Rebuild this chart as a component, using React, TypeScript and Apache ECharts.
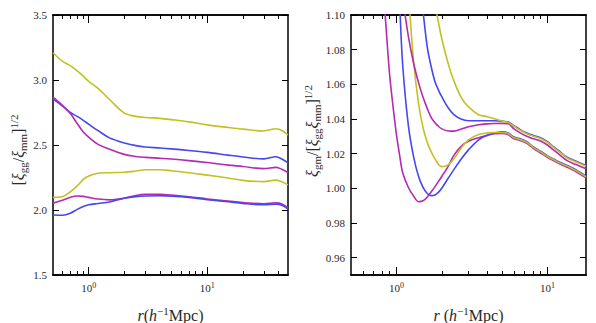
import React, { useEffect, useRef } from "react";
import * as echarts from "echarts";

// ---------- data: left panel, [xi_gg / xi_mm]^(1/2) ----------
const rLeft = [0.5, 0.6, 0.7, 0.8, 0.9, 1, 1.2, 1.5, 2, 2.5, 3, 4, 5, 7, 10, 15, 20, 30, 38, 43, 48];
const leftYellowHigh = [3.21, 3.145, 3.11, 3.07, 3.03, 2.99, 2.935, 2.85, 2.745, 2.72, 2.712, 2.705, 2.695, 2.678, 2.655, 2.635, 2.622, 2.608, 2.625, 2.61, 2.577];
const leftBlueHigh = [2.855, 2.8, 2.75, 2.72, 2.69, 2.66, 2.61, 2.555, 2.515, 2.495, 2.485, 2.477, 2.47, 2.458, 2.443, 2.422, 2.408, 2.393, 2.41, 2.39, 2.362];
const leftMagentaHigh = [2.868, 2.805, 2.742, 2.665, 2.6, 2.56, 2.505, 2.468, 2.428, 2.412, 2.405, 2.398, 2.392, 2.38, 2.365, 2.345, 2.335, 2.318, 2.328, 2.312, 2.288];
const leftYellowLow = [2.097, 2.102, 2.14, 2.185, 2.235, 2.262, 2.283, 2.287, 2.29, 2.3, 2.31, 2.31, 2.302, 2.287, 2.268, 2.246, 2.228, 2.218, 2.23, 2.215, 2.193];
const leftMagentaLow = [2.053, 2.075, 2.098, 2.108, 2.105, 2.097, 2.084, 2.078, 2.092, 2.112, 2.12, 2.12, 2.115, 2.102, 2.085, 2.068, 2.058, 2.048, 2.055, 2.045, 2.018];
const leftBlueLow = [1.962, 1.96, 1.975, 2.005, 2.027, 2.04, 2.05, 2.062, 2.09, 2.103, 2.108, 2.11, 2.107, 2.097, 2.08, 2.063, 2.05, 2.04, 2.044, 2.035, 2.007];

// ---------- data: right panel, xi_gm / [xi_gg xi_mm]^(1/2) ----------
const rRight = [0.8, 0.85, 0.9, 0.95, 1.0, 1.05, 1.1, 1.2, 1.3, 1.4, 1.5, 1.6, 1.7, 1.8, 1.9, 2.0, 2.2, 2.4, 2.7, 3.0, 3.5, 4.0, 4.5, 5.0, 5.5, 6.0, 6.6, 7.3, 8.0, 9.0, 10, 11, 12, 13.5, 15.5, 18];
const rightMagentaLow = [1.126, 1.095, 1.066, 1.047, 1.031, 1.019, 1.009, 1.0005, 0.9955, 0.9923, 0.9928, 0.995, 0.998, 1.001, 1.004, 1.007, 1.0127, 1.019, 1.0245, 1.0272, 1.0292, 1.0305, 1.0315, 1.0316, 1.0309, 1.0286, 1.0276, 1.0259, 1.0232, 1.0204, 1.0179, 1.0159, 1.0142, 1.0122, 1.0096, 1.006];
const rightBlueLow = [null, null, null, null, 1.14, 1.106, 1.071, 1.036, 1.018, 1.007, 1.0005, 0.997, 0.9958, 0.9962, 0.9978, 1.0002, 1.0058, 1.0108, 1.0172, 1.0222, 1.028, 1.0308, 1.0319, 1.0326, 1.0319, 1.0296, 1.0286, 1.0269, 1.0242, 1.0214, 1.0189, 1.0169, 1.0152, 1.0132, 1.0106, 1.007];
const rightYellowLow = [null, null, null, null, null, null, 1.165, 1.113, 1.073, 1.049, 1.035, 1.0265, 1.021, 1.017, 1.0138, 1.0125, 1.0135, 1.017, 1.0235, 1.028, 1.031, 1.032, 1.0322, 1.0322, 1.0315, 1.0292, 1.0282, 1.0265, 1.0238, 1.021, 1.0185, 1.0165, 1.0148, 1.0128, 1.0102, 1.0066];
const rightMagentaHigh = [null, null, null, null, null, 1.125, 1.11, 1.0875, 1.072, 1.061, 1.0525, 1.046, 1.0408, 1.0378, 1.0357, 1.0343, 1.0331, 1.033, 1.0342, 1.0355, 1.0367, 1.0372, 1.0374, 1.0375, 1.0372, 1.0343, 1.032, 1.03, 1.0287, 1.0273, 1.025, 1.022, 1.0195, 1.016, 1.0137, 1.0113];
const rightBlueHigh = [null, null, null, null, null, null, null, null, null, 1.124, 1.102, 1.0815, 1.07, 1.0615, 1.0565, 1.0527, 1.0465, 1.0425, 1.0398, 1.039, 1.039, 1.039, 1.039, 1.0388, 1.0382, 1.0362, 1.0339, 1.0319, 1.0306, 1.0292, 1.0269, 1.0239, 1.0214, 1.0179, 1.0156, 1.0132];
const rightYellowHigh = [null, null, null, null, null, null, null, null, null, null, null, null, 1.118, 1.106, 1.0955, 1.086, 1.072, 1.062, 1.052, 1.047, 1.0425, 1.0413, 1.04, 1.0388, 1.0379, 1.0358, 1.0335, 1.0315, 1.0302, 1.0288, 1.0265, 1.0235, 1.021, 1.0175, 1.0152, 1.0128];

// ---------- ticks ----------
const leftYTicks = [1.5, 2.0, 2.5, 3.0, 3.5];
const rightYTicks = [0.96, 0.98, 1.0, 1.02, 1.04, 1.06, 1.08, 1.1];
const xMajor = [1, 10];
const xMinorLeft = [0.6, 0.7, 0.8, 0.9, 2, 3, 4, 5, 6, 7, 8, 9, 20, 30, 40];
const xMinorRight = [0.6, 0.7, 0.8, 0.9, 2, 3, 4, 5, 6, 7, 8, 9];
const leftXRange = [0.5, 48];
const rightXRange = [0.5, 18];

const YELLOW = "#c4c021";
const BLUE = "#4646f2";
const MAGENTA = "#b42ab4";
const SERIF = "'Liberation Serif', 'DejaVu Serif', serif";
const TXT = "#2a2a2a";

const richName = {
  i: { fontFamily: SERIF, fontStyle: "italic", fontSize: 16, lineHeight: 20, color: TXT },
  sub: { fontFamily: SERIF, fontSize: 11, verticalAlign: "bottom", color: TXT },
  sup: { fontFamily: SERIF, fontSize: 11, verticalAlign: "top", color: TXT },
};
const richGraphic = {
  i: { fontFamily: SERIF, fontStyle: "italic", fontSize: 16, lineHeight: 20, fill: TXT },
  sub: { fontFamily: SERIF, fontSize: 11, verticalAlign: "bottom", fill: TXT },
  sup: { fontFamily: SERIF, fontSize: 11, verticalAlign: "top", fill: TXT },
};

function toPts(rs: number[], vs: (number | null)[]) {
  const out: number[][] = [];
  rs.forEach((r, i) => {
    const v = vs[i];
    if (v !== null && v !== undefined) out.push([Math.log10(r), v]);
  });
  return out;
}

function spine() {
  return { show: true, onZero: false, lineStyle: { color: "#000", width: 1.5 } };
}

function xAxes(gridIndex: number, range: number[], minor: number[], name: string) {
  const min = Math.log10(range[0]);
  const max = Math.log10(range[1]);
  const majorL = xMajor.map((v) => Math.log10(v));
  const minorL = minor.map((v) => Math.log10(v));
  const mk = (position: string, major: boolean, withLabel: boolean) => {
    const ax: any = {
      type: "value",
      gridIndex,
      min,
      max,
      position,
      splitLine: { show: false },
      axisLine: spine(),
      axisTick: { show: true, inside: true, length: major ? 8 : 4, customValues: (major ? majorL : minorL).slice() },
      axisLabel: { show: false },
    };
    if (withLabel) {
      ax.axisLabel = {
        show: true,
        customValues: majorL.slice(),
        margin: 6,
        fontFamily: SERIF,
        fontSize: 11,
        lineHeight: 14,
        color: TXT,
        formatter: (v: number) => `10{sup|${Math.round(v)}}`,
        rich: { sup: { fontFamily: SERIF, fontSize: 8, verticalAlign: "top", color: TXT } },
      };
      ax.name = name;
      ax.nameLocation = "middle";
      ax.nameGap = 30;
      ax.nameTextStyle = { fontFamily: SERIF, fontSize: 16, lineHeight: 20, color: TXT, rich: richName };
    }
    return ax;
  };
  return [mk("bottom", true, true), mk("bottom", false, false), mk("top", true, false), mk("top", false, false)];
}

function yAxes(gridIndex: number, min: number, max: number, ticks: number[], digits: number) {
  return [
    {
      type: "value",
      gridIndex,
      min,
      max,
      position: "left",
      splitLine: { show: false },
      axisLine: spine(),
      axisTick: { show: true, inside: true, length: 6, customValues: ticks.slice() },
      axisLabel: {
        show: true,
        customValues: ticks.slice(),
        margin: 6,
        fontFamily: SERIF,
        fontSize: 11,
        color: TXT,
        formatter: (v: number) => v.toFixed(digits),
      },
    },
    {
      type: "value",
      gridIndex,
      min,
      max,
      position: "right",
      splitLine: { show: false },
      axisLine: spine(),
      axisTick: { show: true, inside: true, length: 6, customValues: ticks.slice() },
      axisLabel: { show: false },
    },
  ];
}

function line(data: number[][], color: string, xAxisIndex: number, yAxisIndex: number) {
  return {
    type: "line",
    data,
    xAxisIndex,
    yAxisIndex,
    showSymbol: false,
    smooth: 0.35,
    clip: true,
    lineStyle: { color, width: 1.6 },
    itemStyle: { color },
  };
}

function yTitle(text: string, x: number, y: number) {
  return {
    type: "text",
    x,
    y,
    rotation: Math.PI / 2,
    style: {
      text,
      fontFamily: SERIF,
      fontSize: 16,
      lineHeight: 20,
      fill: TXT,
      align: "center",
      verticalAlign: "middle",
      rich: richGraphic,
    },
  };
}

export default function App() {
  const ref = useRef<HTMLDivElement>(null);
  useEffect(() => {
    document.body.style.margin = "0";
    if (!ref.current) return;
    const chart = echarts.init(ref.current, undefined, { renderer: "svg" });
    const option = {
      animation: false,
      backgroundColor: "#fff",
      grid: [
        { left: 53, top: 15, width: 235, height: 260, outerBoundsMode: "none" },
        { left: 351, top: 15, width: 235, height: 260, outerBoundsMode: "none" },
      ],
      xAxis: [
        ...xAxes(0, leftXRange, xMinorLeft, "{i|r}({i|h}{sup|−1}Mpc)"),
        ...xAxes(1, rightXRange, xMinorRight, "{i|r} ({i|h}{sup|−1}Mpc)"),
      ],
      yAxis: [...yAxes(0, 1.5, 3.5, leftYTicks, 1), ...yAxes(1, 0.95, 1.1, rightYTicks, 2)],
      graphic: [
        yTitle("[{i|ξ}{sub|gg}/{i|ξ}{sub|mm}]{sup|1/2}", 18, 150),
        yTitle("{i|ξ}{sub|gm}/[{i|ξ}{sub|gg}{i|ξ}{sub|mm}]{sup|1/2}", 312, 131),
      ],
      series: [
        line(toPts(rLeft, leftYellowHigh), YELLOW, 0, 0),
        line(toPts(rLeft, leftBlueHigh), BLUE, 0, 0),
        line(toPts(rLeft, leftMagentaHigh), MAGENTA, 0, 0),
        line(toPts(rLeft, leftYellowLow), YELLOW, 0, 0),
        line(toPts(rLeft, leftMagentaLow), MAGENTA, 0, 0),
        line(toPts(rLeft, leftBlueLow), BLUE, 0, 0),
        line(toPts(rRight, rightMagentaLow), MAGENTA, 4, 2),
        line(toPts(rRight, rightBlueLow), BLUE, 4, 2),
        line(toPts(rRight, rightYellowLow), YELLOW, 4, 2),
        line(toPts(rRight, rightMagentaHigh), MAGENTA, 4, 2),
        line(toPts(rRight, rightBlueHigh), BLUE, 4, 2),
        line(toPts(rRight, rightYellowHigh), YELLOW, 4, 2),
      ],
    };
    chart.setOption(option as any);
    return () => chart.dispose();
  }, []);
  return <div ref={ref} style={{ width: 596, height: 323 }} />;
}
